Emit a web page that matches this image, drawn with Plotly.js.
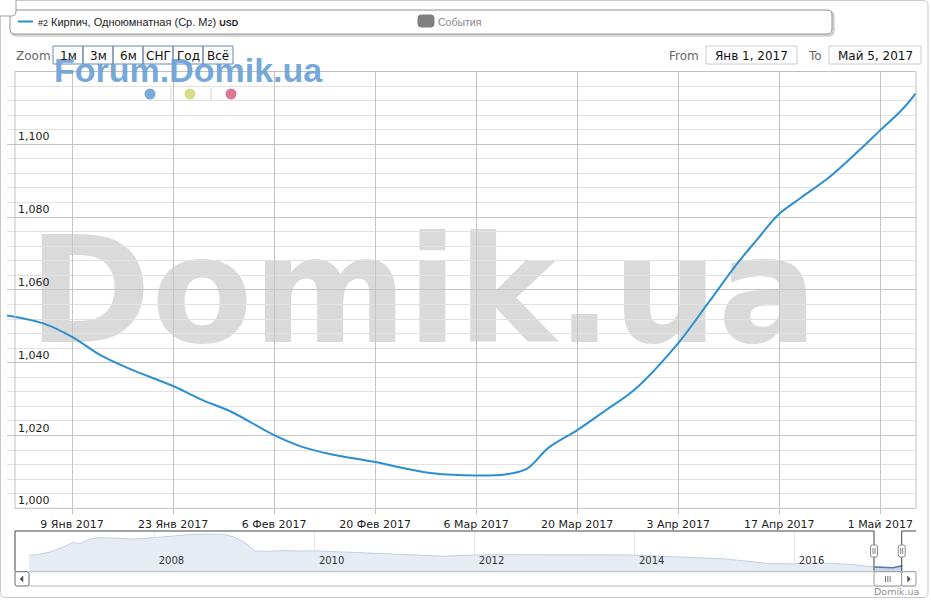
<!DOCTYPE html>
<html><head><meta charset="utf-8">
<script src="https://cdn.plot.ly/plotly-3.0.1.min.js"></script>
<style>html,body{margin:0;padding:0;background:#fff;overflow:hidden}</style>
</head><body><div id="chart" style="width:931px;height:600px"></div>
<script>
// ---- data ----
const mainDates = ['2016-12-31','2017-01-05','2017-01-09','2017-01-13','2017-01-17','2017-01-23','2017-01-27','2017-01-31','2017-02-06','2017-02-10','2017-02-14','2017-02-20','2017-02-24','2017-02-28','2017-03-06','2017-03-10','2017-03-13','2017-03-16','2017-03-20','2017-03-24','2017-03-28','2017-04-03','2017-04-07','2017-04-11','2017-04-14','2017-04-17','2017-04-20','2017-04-24','2017-04-28','2017-05-01','2017-05-04','2017-05-05 22:00'];
const mainValues = [1053.0,1050.8,1047.1,1042.0,1038.3,1033.6,1029.8,1026.6,1020.1,1016.8,1014.8,1012.7,1011.0,1009.6,1009.0,1009.3,1010.8,1016.6,1021.5,1027.0,1032.7,1045.4,1056.0,1066.8,1074.0,1080.9,1085.3,1091.1,1098.2,1103.9,1109.5,1114.0];
const navDates = ['2006-06-06','2006-07-11','2006-09-10','2006-11-10','2006-12-25','2007-01-25','2007-03-11','2007-04-18','2007-07-11','2007-09-25','2007-12-25','2008-03-25','2008-05-26','2008-08-25','2008-11-10','2008-12-25','2009-02-09','2009-03-11','2009-04-03','2009-05-26','2009-08-10','2009-10-25','2010-01-25','2010-05-10','2010-10-10','2011-01-10','2011-04-10','2011-08-10','2011-11-10','2012-03-11','2012-11-10','2013-12-10','2014-03-25','2014-08-25','2015-01-25','2015-05-26','2015-09-10','2015-12-25','2016-04-25','2016-09-25','2016-12-25'];
const navValues = [1570,1600,1720,1940,2140,2100,2290,2350,2335,2290,2350,2425,2480,2515,2500,2395,2170,1945,1765,1750,1780,1765,1765,1720,1660,1650,1590,1530,1575,1600,1590,1590,1545,1500,1430,1320,1200,1200,1245,1165,1080];
const xTickDates = ['2017-01-09','2017-01-23','2017-02-06','2017-02-20','2017-03-06','2017-03-20','2017-04-03','2017-04-17','2017-05-01'];
const xTickLabels = ['9 Янв 2017','23 Янв 2017','6 Фев 2017','20 Фев 2017','6 Мар 2017','20 Мар 2017','3 Апр 2017','17 Апр 2017','1 Май 2017'];
const yTickValues = [1000,1020,1040,1060,1080,1100];
const zoomButtons = ['1м','3м','6м','СНГ','Год','Всё'];
const fromLabel = 'Янв 1, 2017';
const toLabel = 'Май 5, 2017';

// ---- helpers (pixel -> paper) ----
const W = 931, H = 600;
const px = x => x / W;
const py = y => 1 - y / H;
function rr(x0, y0, x1, y1, r) {
  return `M${px(x0 + r)},${py(y0)} L${px(x1 - r)},${py(y0)} Q${px(x1)},${py(y0)} ${px(x1)},${py(y0 + r)} ` +
    `L${px(x1)},${py(y1 - r)} Q${px(x1)},${py(y1)} ${px(x1 - r)},${py(y1)} L${px(x0 + r)},${py(y1)} ` +
    `Q${px(x0)},${py(y1)} ${px(x0)},${py(y1 - r)} L${px(x0)},${py(y0 + r)} Q${px(x0)},${py(y0)} ${px(x0 + r)},${py(y0)} Z`;
}
function pathShape(d, color, width, fill, layer) {
  return {type: 'path', xref: 'paper', yref: 'paper', path: d, line: {color: color, width: width},
          fillcolor: fill || 'rgba(0,0,0,0)', layer: layer || 'above'};
}
function line(x0, y0, x1, y1, color, width) {
  return {type: 'line', xref: 'paper', yref: 'paper', x0: px(x0), y0: py(y0), x1: px(x1), y1: py(y1),
          line: {color: color, width: width || 1}, layer: 'above'};
}
function poly(pts, color, fill) {
  return pathShape('M' + pts.map(p => px(p[0]) + ',' + py(p[1])).join(' L') + ' Z', color, 0.5, fill);
}
function circle(cx, cy, r, color) {
  return {type: 'circle', xref: 'paper', yref: 'paper', x0: px(cx - r), x1: px(cx + r), y0: py(cy + r), y1: py(cy - r),
          line: {width: 0}, fillcolor: color, layer: 'above'};
}
function ann(text, x, y, size, color, xanchor, family) {
  return {text: text, xref: 'paper', yref: 'paper', x: px(x), y: py(y), showarrow: false,
    xanchor: xanchor || 'left', yanchor: 'middle', font: {family: family || 'DejaVu Sans', size: size, color: color}};
}

const shapes = [];
const annotations = [];

// watermark big (below grid, plot bg transparent)
shapes.push({type: 'rect', xref: 'paper', yref: 'paper', x0: px(32), x1: px(814), y0: py(354), y1: py(206),
  layer: 'below', line: {width: 0}, fillcolor: 'rgba(0,0,0,0)',
  label: {text: 'Domik.ua', textposition: 'middle center',
          font: {family: 'DejaVu Sans', size: 148, color: '#dadada', weight: 'bold'}}});

// outer border
shapes.push(pathShape(rr(0.5, 0.5, 928, 597.5, 5), '#c8c8c8', 1));
// plot frame
shapes.push({type: 'rect', xref: 'paper', yref: 'paper', x0: px(15), x1: px(916), y0: py(508.3), y1: py(71.5),
             line: {color: '#c0c0c0', width: 1}, layer: 'above'});

// legend box (shadow + box)
shapes.push(pathShape(rr(11.5, 11.5, 833.5, 35.5, 5), 'rgba(0,0,0,0.18)', 2.5));
shapes.push(pathShape(rr(10, 10, 832, 34, 5), '#909090', 1, '#ffffff'));
shapes.push(line(18, 21.5, 33, 21.5, '#2b8fd0', 2));
shapes.push(pathShape(rr(418, 15, 434, 27, 3), '#808080', 1, '#808080'));
// small top-left button
shapes.push(pathShape(rr(-4, -4, 16, 16, 4), '#a0a0a0', 1, '#ffffff'));

// zoom buttons
zoomButtons.forEach((b, i) => {
  const x0 = 53 + i * 30;
  shapes.push({type: 'rect', xref: 'paper', yref: 'paper', x0: px(x0), x1: px(x0 + 30), y0: py(64), y1: py(46),
               line: {color: '#6a88b0', width: 1}, fillcolor: 'rgba(0,0,0,0)', layer: 'above'});
});
// from / to boxes
shapes.push({type: 'rect', xref: 'paper', yref: 'paper', x0: px(706), x1: px(797), y0: py(64), y1: py(46),
             line: {color: '#cccccc', width: 1}, layer: 'above'});
shapes.push({type: 'rect', xref: 'paper', yref: 'paper', x0: px(829), x1: px(921), y0: py(64), y1: py(46),
             line: {color: '#cccccc', width: 1}, layer: 'above'});

// dots under forum watermark
shapes.push(circle(150, 94, 5.5, '#7aaad8'));
shapes.push(circle(190, 94, 5.5, '#d8dd8c'));
shapes.push(circle(231, 94, 5.5, '#dc7a96'));
shapes.push(line(171, 88, 171, 100, '#d0d0d0', 1));
shapes.push(line(211, 88, 211, 100, '#d0d0d0', 1));

// navigator outline
shapes.push(pathShape(`M${px(15)},${py(571.7)} L${px(15)},${py(531)} L${px(874)},${py(531)} L${px(874)},${py(571.7)} ` +
  `M${px(901.7)},${py(571.7)} L${px(901.7)},${py(531)} L${px(916)},${py(531)}`, '#444444', 1));
// handles
[874, 901.7].forEach(hx => {
  shapes.push(pathShape(rr(hx - 3.5, 545, hx + 3.5, 557, 2), '#888888', 1, '#ffffff'));
  shapes.push(line(hx - 1, 548, hx - 1, 554, '#666', 0.8));
  shapes.push(line(hx + 1, 548, hx + 1, 554, '#666', 0.8));
});
// scrollbar
shapes.push(line(29, 571.7, 916, 571.7, '#b8b8b8', 1));
shapes.push(line(29, 586, 916, 586, '#b8b8b8', 1));
shapes.push(pathShape(rr(15, 571.7, 29, 586, 2), '#666666', 1, '#ffffff'));
shapes.push(poly([[23, 576], [23, 582], [20, 579]], '#555', '#555'));
shapes.push(pathShape(rr(874, 571.7, 901.7, 586, 2), '#999999', 1, '#ffffff'));
shapes.push(line(885.5, 576, 885.5, 582, '#555', 0.8));
shapes.push(line(887.8, 576, 887.8, 582, '#555', 0.8));
shapes.push(line(890.1, 576, 890.1, 582, '#555', 0.8));
shapes.push(pathShape(rr(901.7, 571.7, 916, 586, 2), '#999999', 1, '#ffffff'));
shapes.push(poly([[907.5, 576], [907.5, 582], [910.5, 579]], '#555', '#555'));

// annotations
annotations.push(ann('<b>Forum.Domik.ua</b>', 52, 70, 34, 'rgba(106,160,214,0.92)', 'left', 'Liberation Sans'));
annotations.push(ann('<span style="font-size:9px">#2</span> Кирпич, Одноюмнатная (Ср. М<span style="font-size:9px">2</span>) <b style="font-size:9px">USD</b>',
  36, 22, 11, '#222222', 'left', 'Liberation Sans'));
annotations.push(ann('События', 436, 22, 10.5, '#888888', 'left', 'Liberation Sans'));
annotations.push(ann('Zoom', 14, 56, 12, '#666666'));
zoomButtons.forEach((b, i) => annotations.push(ann(b, 53 + i * 30 + 15, 55.5, 12, '#111111', 'center')));
annotations.push(ann('From', 667, 56, 12, '#666666'));
annotations.push(ann(fromLabel, 751.5, 55.5, 12, '#111111', 'center'));
annotations.push(ann('To', 806, 56, 12, '#666666'));
annotations.push(ann(toLabel, 875, 55.5, 12, '#111111', 'center'));
annotations.push(ann('Domik.ua', 921, 591.5, 9.5, '#909090', 'right'));

const traces = [
  {type: 'scatter', mode: 'lines', x: navDates.concat(mainDates.slice(0, 1)), y: navValues.concat(mainValues.slice(0, 1)),
   xaxis: 'x2', yaxis: 'y2', fill: 'tozeroy', fillcolor: '#e7ecf4', line: {color: '#c2cfe2', width: 1}, hoverinfo: 'skip'},
  {type: 'scatter', mode: 'lines', x: mainDates, y: mainValues,
   xaxis: 'x2', yaxis: 'y2', fill: 'tozeroy', fillcolor: '#c9d5e8', line: {color: '#4a78b0', width: 1.5}, hoverinfo: 'skip'},
  {type: 'scatter', mode: 'lines', x: mainDates, y: mainValues, xaxis: 'x', yaxis: 'y',
   line: {color: '#2b8fd0', width: 2, shape: 'spline', smoothing: 1}, hoverinfo: 'skip'}
];

const layout = {
  width: W, height: H, autosize: false,
  margin: {l: 0, r: 0, t: 0, b: 0},
  paper_bgcolor: '#ffffff', plot_bgcolor: 'rgba(0,0,0,0)',
  showlegend: false,
  font: {family: 'DejaVu Sans', size: 11, color: '#222'},
  xaxis: {
    domain: [px(7), px(916)], range: ['2016-12-30 23:45', '2017-05-05 22:40'], type: 'date',
    tickvals: xTickDates, ticktext: xTickLabels, showgrid: true, gridcolor: '#c4c4c4', gridwidth: 1,
    ticks: 'outside', ticklen: 5, tickcolor: '#c0c0c0', showline: false, zeroline: false,
    tickfont: {family: 'DejaVu Sans', size: 11, color: '#222'}, fixedrange: true
  },
  yaxis: {
    domain: [py(508.3), py(71.5)], range: [1000, 1120],
    tickvals: yTickValues, tickformat: ',d', showgrid: true, gridcolor: '#c4c4c4', gridwidth: 1,
    minor: {dtick: 4, tick0: 1000, showgrid: true, gridcolor: '#e2e2e2', gridwidth: 1, ticks: ''},
    ticklabelposition: 'inside top', ticklabelstandoff: 8, ticks: '', zeroline: false, showline: false,
    tickfont: {family: 'DejaVu Sans', size: 11, color: '#222'}, fixedrange: true
  },
  xaxis2: {
    anchor: 'y2', domain: [px(15), px(916)], range: ['2006-04-03', '2017-07-07'], type: 'date',
    dtick: 'M24', tick0: '2008-01-01', tickformat: '%Y', showgrid: true, gridcolor: '#e6e6e6',
    ticklabelposition: 'inside right', ticklabelshift: 4, ticks: '', showline: false, zeroline: false,
    tickfont: {family: 'DejaVu Sans', size: 10, color: '#333'}, fixedrange: true
  },
  yaxis2: {
    anchor: 'x2', domain: [py(571.7), py(531)], range: [850, 2650], visible: false, fixedrange: true
  },
  shapes: shapes,
  annotations: annotations
};

Plotly.newPlot('chart', traces, layout, {staticPlot: true, displayModeBar: false});
</script>
</body></html>
